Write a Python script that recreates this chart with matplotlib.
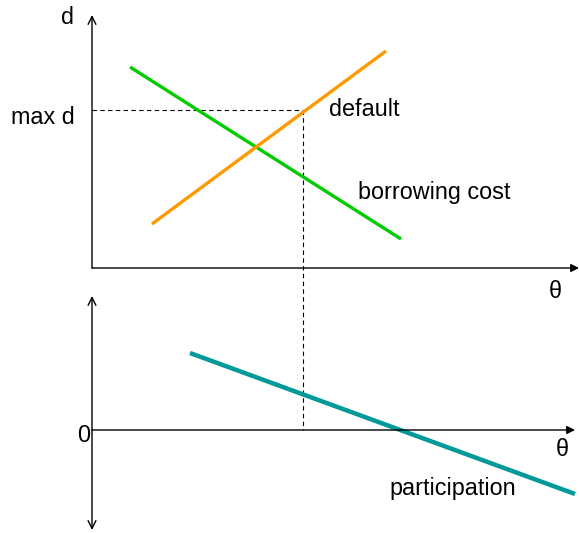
import matplotlib
matplotlib.use('Agg')
from matplotlib import pyplot as plt

plt.rcParams['font.family'] = ['Liberation Sans', 'DejaVu Sans']

# line end points (diagram units = pixels of the original sketch)
borrowing_x = [130, 401]
borrowing_y = [67, 239]
default_x = [152, 386]
default_y = [224, 51]
participation_x = [190, 575]
participation_y = [353, 494]

max_d = 110
theta_star = 303
top_origin = (92, 268)
bottom_origin = (92, 430)

fig = plt.figure(figsize=(5.79, 5.33), dpi=100)
ax = fig.add_axes([0, 0, 1, 1])
ax.set_xlim(0, 579)
ax.set_ylim(533, 0)
ax.axis('off')

open_arrow = dict(arrowstyle='->', color='black', lw=1, mutation_scale=14, shrinkA=0, shrinkB=0)
solid_arrow = dict(arrowstyle='-|>', color='black', lw=1, mutation_scale=12, shrinkA=0, shrinkB=0)

# top panel axes
ax.annotate('', xy=(top_origin[0], 15), xytext=top_origin, arrowprops=open_arrow)
ax.annotate('', xy=(579, top_origin[1]), xytext=top_origin, arrowprops=solid_arrow)

# bottom panel axes
ax.annotate('', xy=(bottom_origin[0], 296), xytext=(bottom_origin[0], bottom_origin[1]), arrowprops=open_arrow)
ax.annotate('', xy=(bottom_origin[0], 530), xytext=(bottom_origin[0], bottom_origin[1]), arrowprops=open_arrow)
ax.annotate('', xy=(575, bottom_origin[1]), xytext=bottom_origin, arrowprops=solid_arrow)

# dashed guides
ax.plot([top_origin[0], theta_star], [max_d, max_d], color='black', lw=0.8, ls=(0, (4, 3)))
ax.plot([theta_star, theta_star], [max_d, bottom_origin[1]], color='black', lw=0.8, ls=(0, (4, 3)))

ax.plot(borrowing_x, borrowing_y, color='#00cc00', lw=2.4, solid_capstyle='butt')
ax.plot(default_x, default_y, color='#ff9900', lw=2.4, solid_capstyle='butt')
ax.plot(participation_x, participation_y, color='#009999', lw=3.2, solid_capstyle='butt')

fs = 16.8
ax.text(68, 18, 'd', fontsize=fs, ha='center', va='center')
ax.text(43, 117, 'max d', fontsize=fs, ha='center', va='center')
ax.text(364, 109, 'default', fontsize=fs, ha='center', va='center')
ax.text(434, 193, 'borrowing cost', fontsize=fs, ha='center', va='center')
ax.text(555, 292, 'θ', fontsize=fs, ha='center', va='center')
ax.text(84, 436, '0', fontsize=fs, ha='center', va='center')
ax.text(562, 450, 'θ', fontsize=fs, ha='center', va='center')
ax.text(453, 488, 'participation', fontsize=fs, ha='center', va='center')

plt.savefig('out.png', dpi=100)
